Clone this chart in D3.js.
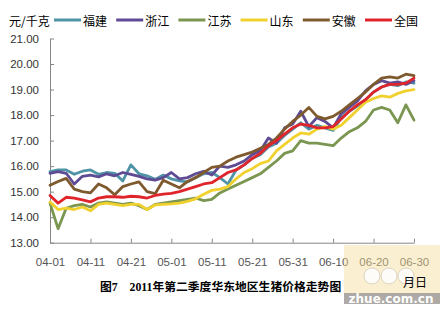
<!DOCTYPE html>
<html>
<head>
<meta charset="utf-8">
<script src="https://cdn.jsdelivr.net/npm/d3@7"></script>
<style>
  body { margin: 0; background: #fff; }
  svg { display: block; }
</style>
</head>
<body>
<svg width="440" height="310"></svg>
<script>
// price per series, read every second day from 04-01 to 06-30 (46 points)
const fujian = [15.78, 15.85, 15.85, 15.68, 15.8, 15.85, 15.68, 15.75, 15.72, 15.42, 16.05, 15.7, 15.62, 15.48, 15.65, 15.5, 15.42, 15.38, 15.55, 15.7, 15.75, 15.55, 15.3, 15.85, 16.05, 16.3, 16.45, 16.75, 16.9, 17.2, 17.45, 17.7, 17.45, 17.6, 17.5, 17.4, 17.9, 18.15, 18.35, 18.6, 18.9, 19.1, 19.2, 19.15, 19.3, 19.25];
const zhejiang = [15.72, 15.78, 15.72, 15.3, 15.6, 15.65, 15.58, 15.7, 15.62, 15.75, 15.68, 15.6, 15.5, 15.45, 15.55, 15.75, 15.5, 15.55, 15.7, 15.8, 15.65, 16.0, 15.95, 16.05, 16.2, 16.45, 16.6, 17.1, 16.9, 17.5, 17.65, 18.15, 17.55, 17.9, 17.75, 17.5, 18.05, 18.3, 18.55, 18.95, 19.2, 19.35, 19.25, 19.3, 19.2, 19.35];
const jiangsu = [14.55, 13.55, 14.35, 14.45, 14.5, 14.4, 14.55, 14.6, 14.55, 14.5, 14.55, 14.45, 14.3, 14.5, 14.55, 14.6, 14.65, 14.7, 14.75, 14.65, 14.7, 14.95, 15.1, 15.25, 15.4, 15.55, 15.7, 15.95, 16.2, 16.5, 16.6, 17.0, 16.9, 16.9, 16.85, 16.8, 17.1, 17.35, 17.5, 17.75, 18.2, 18.3, 18.2, 17.7, 18.4, 17.8];
const shandong = [14.6, 14.3, 14.35, 14.3, 14.4, 14.25, 14.5, 14.55, 14.5, 14.45, 14.5, 14.5, 14.3, 14.48, 14.5, 14.52, 14.55, 14.62, 14.72, 14.9, 15.05, 15.1, 15.2, 15.5, 15.75, 15.9, 16.1, 16.2, 16.6, 16.85, 17.1, 17.3, 17.25, 17.45, 17.55, 17.45, 17.6, 17.9, 18.2, 18.5, 18.65, 18.75, 18.7, 18.85, 18.95, 19.0];
const anhui = [15.25, 15.4, 15.52, 15.1, 15.0, 14.95, 15.3, 15.15, 14.88, 15.2, 15.3, 15.38, 15.0, 14.92, 15.45, 15.3, 15.15, 15.4, 15.55, 15.75, 15.95, 16.0, 16.2, 16.35, 16.45, 16.55, 16.7, 16.85, 17.1, 17.45, 17.75, 18.0, 18.3, 17.95, 17.85, 17.95, 18.15, 18.4, 18.65, 18.9, 19.2, 19.45, 19.5, 19.45, 19.6, 19.55];
const quanguo = [14.85, 14.55, 14.78, 14.75, 14.68, 14.6, 14.75, 14.8, 14.8, 14.78, 14.82, 14.8, 14.75, 14.85, 14.9, 14.93, 15.0, 15.1, 15.2, 15.3, 15.35, 15.55, 15.75, 15.85, 16.05, 16.3, 16.5, 16.8, 17.0, 17.25, 17.5, 17.65, 17.6, 17.5, 17.5, 17.55, 17.85, 18.15, 18.4, 18.6, 18.9, 19.1, 19.2, 19.2, 19.25, 19.45];

const seriesNames = ["福建", "浙江", "江苏", "山东", "安徽", "全国"];
const seriesValues = [fujian, zhejiang, jiangsu, shandong, anhui, quanguo];
const seriesColors = ["#4f93a6", "#5f4b94", "#7a9650", "#f0d12e", "#7e5a2e", "#e0242c"];

const xTickLabels = ["04-01", "04-11", "04-21", "05-01", "05-11", "05-21", "05-31", "06-10", "06-20", "06-30"];
const yTickValues = [13, 14, 15, 16, 17, 18, 19, 20, 21];

const unitLabel = "元/千克";
const xUnitLabel = "月日";
const title = "图7\u30002011年第二季度华东地区生猪价格走势图";

const plot = { left: 50, right: 414, top: 38.5, bottom: 242.7 };
const svg = d3.select("svg");
const parse = d3.timeParse("%Y-%m-%d");
const dates = d3.timeDays(parse("2011-04-01"), parse("2011-07-01"), 2);
const tickDates = xTickLabels.map(s => parse("2011-" + s));

const xScale = d3
  .scaleTime()
  .domain([parse("2011-04-01"), parse("2011-06-30")])
  .range([plot.left, plot.right]);

const yScale = d3
  .scaleLinear()
  .domain([13, 21])
  .range([plot.bottom, plot.top]);

// axes
const yAxis = d3
  .axisLeft(yScale)
  .tickValues(yTickValues)
  .tickFormat(d3.format(".2f"))
  .tickSizeInner(-4)
  .tickSizeOuter(0)
  .tickPadding(11);

const xAxis = d3
  .axisBottom(xScale)
  .tickValues(tickDates)
  .tickFormat(d3.timeFormat("%m-%d"))
  .tickSizeInner(-4)
  .tickSizeOuter(0)
  .tickPadding(15);

const gy = svg
  .append("g")
  .attr("transform", "translate(" + [plot.left, 0] + ")")
  .call(yAxis);
gy.selectAll("text")
  .attr("font-family", "'Liberation Sans', Arial, sans-serif")
  .attr("font-size", 11.5)
  .attr("fill", "#333");

const gx = svg
  .append("g")
  .attr("transform", "translate(" + [0, plot.bottom] + ")")
  .call(xAxis);
gx.selectAll("text")
  .attr("font-family", "'Liberation Sans', Arial, sans-serif")
  .attr("font-size", 11.5)
  .attr("fill", "#555");

svg.selectAll(".domain, .tick line").attr("stroke", "#868686");

// lines
const line = d3
  .line()
  .x((d, i) => xScale(dates[i]))
  .y(d => yScale(d));

svg
  .append("g")
  .selectAll("path")
  .data(seriesValues)
  .enter()
  .append("path")
  .attr("d", line)
  .attr("fill", "none")
  .attr("stroke", (d, i) => seriesColors[i])
  .attr("stroke-width", 2.8)
  .attr("stroke-linejoin", "round")
  .attr("stroke-linecap", "round");

// legend
const cjk = "'Noto Sans CJK SC', sans-serif";
svg
  .append("text")
  .attr("x", 9)
  .attr("y", 20)
  .attr("dominant-baseline", "central")
  .attr("font-family", cjk)
  .attr("font-size", 12)
  .text(unitLabel);

const legend = svg
  .append("g")
  .selectAll("g")
  .data(seriesNames)
  .enter()
  .append("g")
  .attr("transform", (d, i) => "translate(" + [54 + i * 62.2, 20] + ")");

legend
  .append("line")
  .attr("x1", 0)
  .attr("x2", 27)
  .attr("stroke", (d, i) => seriesColors[i])
  .attr("stroke-width", 3);

legend
  .append("text")
  .attr("x", 29)
  .attr("dominant-baseline", "central")
  .attr("font-family", cjk)
  .attr("font-size", 12)
  .text(d => d);

// title and x unit
svg
  .append("text")
  .attr("x", 100)
  .attr("y", 291)
  .attr("font-family", "'Liberation Serif', " + cjk)
  .attr("font-weight", "bold")
  .attr("font-size", 11.8)
  .text(title);

// watermark
const wm = svg.append("g");
wm.append("rect")
  .attr("x", 344).attr("y", 245).attr("width", 96).attr("height", 58)
  .attr("fill", "#f3dc96").attr("opacity", 0.45);
wm.selectAll("circle")
  .data([372, 389, 406])
  .enter()
  .append("circle")
  .attr("cx", d => d).attr("cy", 276).attr("r", 8)
  .attr("fill", "#fff").attr("stroke", "#d8d0c0").attr("opacity", 0.85);
wm.append("rect")
  .attr("x", 344).attr("y", 293).attr("width", 96).attr("height", 11)
  .attr("fill", "#a09c9c").attr("opacity", 0.85);
wm.append("text")
  .attr("x", 391).attr("y", 302.5)
  .attr("text-anchor", "middle")
  .attr("font-family", "'DejaVu Sans', sans-serif")
  .attr("font-weight", "bold")
  .attr("font-size", 12)
  .attr("fill", "#fff")
  .text("zhue.com.cn");

svg
  .append("text")
  .attr("x", 403)
  .attr("y", 287)
  .attr("font-family", cjk)
  .attr("font-size", 12)
  .text(xUnitLabel);
</script>
</body>
</html>
